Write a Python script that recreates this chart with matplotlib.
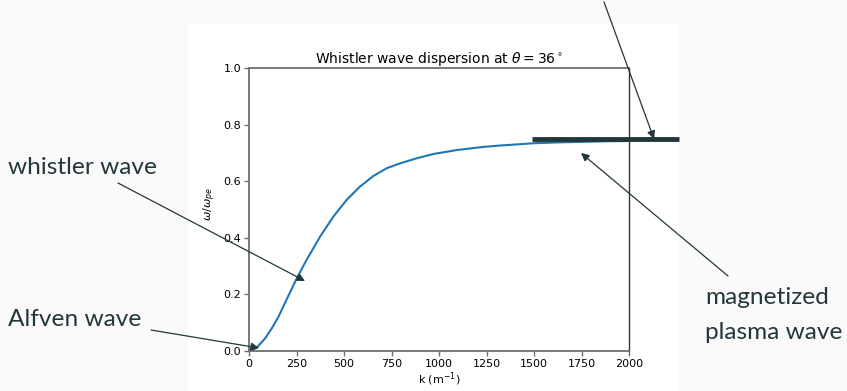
import matplotlib
matplotlib.use("Agg")
import matplotlib.pyplot as plt
from matplotlib.patches import Rectangle, FancyArrowPatch
from matplotlib.lines import Line2D

# ---- data ----
k_values = [0, 20, 40, 60, 85, 120, 155, 200, 250, 303, 374, 444, 514, 584, 654, 725,
            795, 883, 970, 1093, 1230, 1320, 1410, 1495, 1620, 1750, 1875, 2000]
omega_values = [0.0, 0.004, 0.012, 0.026, 0.045, 0.080, 0.121, 0.185, 0.255, 0.322,
                0.404, 0.475, 0.534, 0.581, 0.618, 0.646, 0.663, 0.681, 0.696, 0.710,
                0.721, 0.726, 0.730, 0.734, 0.737, 0.739, 0.741, 0.742]
x_ticks = [0, 250, 500, 750, 1000, 1250, 1500, 1750, 2000]
y_ticks = [0.0, 0.2, 0.4, 0.6, 0.8, 1.0]
title_text = r"Whistler wave dispersion at $\theta = 36^\circ$"
xlabel_text = r"k (m$^{-1}$)"
ylabel_text = r"$\omega/\omega_{pe}$"
annotations = ["whistler wave", "Alfven wave", "magnetized", "plasma wave"]

W, H = 847, 391
DARK = "#23373b"
SPINE = "#6e6e6e"

fig = plt.figure(figsize=(W / 100, H / 100), dpi=100, facecolor="#fafafa")


def fx(x):
    return x / W


def fy(y):
    return 1 - y / H


# white slide panel
fig.add_artist(Rectangle((fx(188), 0), fx(679) - fx(188), fy(24), transform=fig.transFigure,
                         facecolor="white", edgecolor="none", zorder=0))

ax = fig.add_axes([fx(249), fy(351), fx(629) - fx(249), fy(68) - fy(351)])
ax.set_facecolor("white")
ax.plot(k_values, omega_values, color="#1f77b4", lw=1.5)
ax.set_xlim(0, 2000)
ax.set_ylim(0, 1.0)
ax.set_xticks(x_ticks)
ax.set_yticks(y_ticks)
ax.tick_params(labelsize=8, color=SPINE, length=3.5, width=1.0, pad=2)
for s in ["left", "top", "bottom"]:
    ax.spines[s].set_color(SPINE)
    ax.spines[s].set_linewidth(1.3)
ax.spines["right"].set_color("#333333")
ax.spines["right"].set_linewidth(1.0)
ax.set_title(title_text, fontsize=10, pad=3.5)
ax.set_xlabel(xlabel_text, fontsize=8, labelpad=1)
ax.set_ylabel(ylabel_text, fontsize=8)
ax.yaxis.set_label_coords(-0.082, 0.52)

# thick overlay bar
fig.add_artist(Line2D([fx(532), fx(679)], [fy(139), fy(139)], transform=fig.transFigure,
                      color=DARK, lw=3.5, solid_capstyle="butt", zorder=5))

font = dict(family=["Lato", "DejaVu Sans"], fontsize=17.6, color=DARK)
fig.text(fx(8), fy(174), annotations[0], ha="left", va="baseline", **font)
fig.text(fx(8), fy(326), annotations[1], ha="left", va="baseline", **font)
fig.text(fx(705), fy(304), annotations[2], ha="left", va="baseline", **font)
fig.text(fx(705), fy(339), annotations[3], ha="left", va="baseline", **font)


def arrow(x0, y0, x1, y1):
    fig.add_artist(FancyArrowPatch((fx(x0), fy(y0)), (fx(x1), fy(y1)), transform=fig.transFigure,
                                   arrowstyle="-|>", mutation_scale=12, lw=0.9, color=DARK,
                                   shrinkA=0, shrinkB=0, zorder=6))


arrow(604, 2, 654, 139)
arrow(118, 183, 305, 281)
arrow(151, 330, 259, 348)
arrow(728, 276, 581, 153)

fig.savefig("out.png", dpi=100, facecolor=fig.get_facecolor())
